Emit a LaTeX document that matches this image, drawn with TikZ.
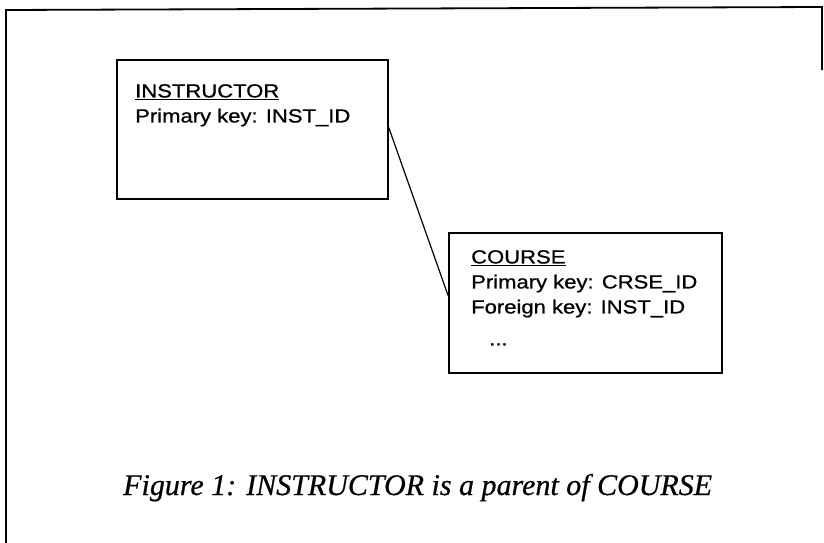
\documentclass[tikz,border=0pt]{standalone}
\usepackage{fontspec}
\usetikzlibrary{positioning}
\newfontfamily\boxfont[FakeStretch=1.16, FakeBold=0.8]{Liberation Sans}
\newfontfamily\capfont[FakeBold=0.6]{Liberation Serif}

\tikzset{
    entity/.style={draw, line width=1.5pt, inner sep=0pt},
    fields/.style={align=left, inner sep=0pt, anchor=north west, font=\boxfont\fontsize{19}{25}\selectfont},
}

\begin{document}
\begin{tikzpicture}[x=1pt, y=-1pt]
    \useasboundingbox (0,0) rectangle (824,543);
    % outer frame
    \draw [line width=1.8pt] (822,70) -- (822,7) -- (6,10) -- (6,543);
    % the two tables
    \node [entity, minimum width=271pt, minimum height=139pt] (inst) at (252.5,129.5) {};
    \node [entity, minimum width=273pt, minimum height=140pt] (course) at (585.5,303) {};
    \node [fields] (instfields) at (135,84) {\underline{INSTRUCTOR}\\Primary key: INST\_ID};
    \node [fields] (coursefields) at (471,250) {\underline{COURSE}\\Primary key: CRSE\_ID\\Foreign key: INST\_ID\\[7pt]\hspace*{18pt}...};
    % link
    \coordinate (instend) at ([yshift=2pt]inst.east);
    \coordinate (courseend) at ([yshift=7pt]course.west);
    \draw [line width=1.2pt] (instend) -- (courseend);
    % caption
    \node [anchor=base west, inner sep=0pt, font=\capfont\itshape\fontsize{30}{36}\selectfont] (caption) at (123,495) {Figure 1: INSTRUCTOR is a parent of COURSE};
\end{tikzpicture}
\end{document}
